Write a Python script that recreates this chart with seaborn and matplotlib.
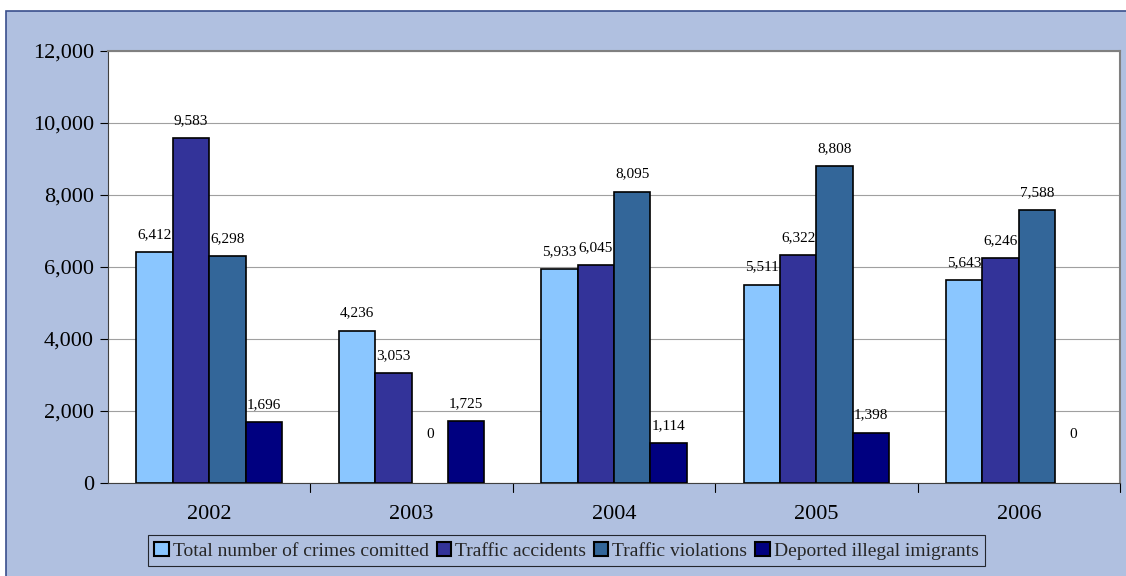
import matplotlib
matplotlib.use("Agg")
import matplotlib.pyplot as plt
from matplotlib.patches import Rectangle
from matplotlib.ticker import FuncFormatter
import seaborn as sns
import pandas as pd

# data
years = ["2002", "2003", "2004", "2005", "2006"]
series_names = ["Total number of crimes comitted", "Traffic accidents",
                "Traffic violations", "Deported illegal imigrants"]
crimes = [6412, 4236, 5933, 5511, 5643]
accidents = [9583, 3053, 6045, 6322, 6246]
violations = [6298, 0, 8095, 8808, 7588]
deported = [1696, 1725, 1114, 1398, 0]
colors = ["#8AC6FF", "#333399", "#336699", "#000080"]

rows = []
for name, vals in zip(series_names, [crimes, accidents, violations, deported]):
    for y, v in zip(years, vals):
        rows.append({"Year": y, "Series": name, "Value": v})
df = pd.DataFrame(rows)

sns.set_style("white")
plt.rcParams["font.family"] = ["Liberation Serif", "DejaVu Serif"]

fig = plt.figure(figsize=(11.26, 5.76), dpi=100, facecolor="white")
# blue chart-area panel with dark border
panel = Rectangle((6 / 1126, -0.1), 1.2, 1 - 11 / 576 + 0.1,
                  transform=fig.transFigure, facecolor="#B0C0E0",
                  edgecolor="#3A4F8C", linewidth=1.2, zorder=-10)
fig.patches.append(panel)
ax = fig.add_axes([108 / 1126, 1 - 483 / 576, (1120 - 108) / 1126, (483 - 51) / 576])
ax.set_facecolor("white")

sns.barplot(data=df, x="Year", y="Value", hue="Series", hue_order=series_names,
            palette=colors, width=0.72, edgecolor="black", linewidth=1.2,
            saturation=1, ax=ax, legend=True, zorder=3)

ax.set_ylim(0, 12000)
ax.set_yticks(range(0, 12001, 2000))
ax.yaxis.set_major_formatter(FuncFormatter(lambda v, p: f"{int(v):,}"))
ax.grid(axis="y", color="#A0A0A0", linewidth=0.8, zorder=0)
ax.set_axisbelow(True)
ax.set_xlabel("")
ax.set_ylabel("")
ax.tick_params(axis="both", labelsize=16, colors="black")
ax.tick_params(axis="y", direction="out", length=6, width=0.8, left=True, pad=4)
ax.tick_params(axis="x", length=0, pad=16)
# group separator ticks on the x axis
for xb in [0.5, 1.5, 2.5, 3.5, 4.5]:
    ax.plot([xb, xb], [0, -0.02], transform=ax.get_xaxis_transform(),
            color="black", linewidth=0.8, clip_on=False)
ax.set_xlim(-0.5, 4.5)

for side in ["top", "right"]:
    ax.spines[side].set_color("#808080")
    ax.spines[side].set_linewidth(1.5)
ax.spines["left"].set_color("#404040")
ax.spines["bottom"].set_color("#404040")

for cont in ax.containers:
    for bar in cont:
        h = bar.get_height()
        if h == 0:
            bar.set_visible(False)
        pad = 8 if h > 0 else 30
        ax.annotate(f"{int(h):,}", (bar.get_x() + bar.get_width() / 2, h),
                    xytext=(0, pad), textcoords="offset points",
                    ha="center", va="bottom", fontsize=11, color="black")

leg = ax.legend(loc="upper center", bbox_to_anchor=(0.453, -0.12), ncol=4,
                fontsize=14, frameon=True, fancybox=False, edgecolor="black",
                facecolor="#B0C0E0", handlelength=0.75, handleheight=0.75,
                handletextpad=0.2, columnspacing=0.4, borderpad=0.35,
                borderaxespad=0)
leg.get_frame().set_linewidth(0.8)
for h in leg.legend_handles:
    h.set_edgecolor("black")
    h.set_linewidth(1.5)

fig.savefig("out.png", dpi=100, facecolor="white")
